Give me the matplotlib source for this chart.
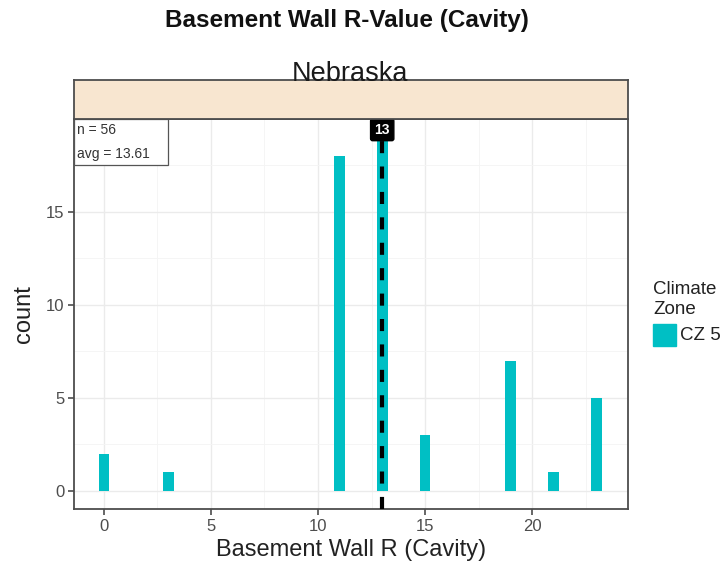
import matplotlib
matplotlib.use("Agg")
from matplotlib import pyplot as plt
from matplotlib.patches import Rectangle
from matplotlib.ticker import MultipleLocator

# data
r_values = [0, 3, 11, 13, 15, 19, 21, 23]
counts = [2, 1, 18, 19, 3, 7, 1, 5]
n_homes = 56
avg_r = 13.61
median_r = 13
state = "Nebraska"
zone_label = "CZ 5"

BAR_COLOR = "#00BFC4"
STRIP_COLOR = "#F8E6D0"

plt.rcParams["font.family"] = ["Liberation Sans", "DejaVu Sans"]

fig = plt.figure(figsize=(7.25, 5.75), dpi=100)

W, H = 725, 575
left, right, top, bottom = 74, 627.5, 119, 509
ax = fig.add_axes([left / W, 1 - bottom / H, (right - left) / W, (bottom - top) / H])

ax.bar(r_values, counts, width=0.5, color=BAR_COLOR, zorder=3)
ax.set_xlim(-1.4, 24.46)
ax.set_ylim(-0.97, 19.98)

ax.xaxis.set_major_locator(MultipleLocator(5))
ax.xaxis.set_minor_locator(MultipleLocator(2.5))
ax.yaxis.set_major_locator(MultipleLocator(5))
ax.yaxis.set_minor_locator(MultipleLocator(2.5))
ax.grid(which="major", color="#EBEBEB", linewidth=1.0, zorder=0)
ax.grid(which="minor", color="#F4F4F4", linewidth=0.6, zorder=0)
ax.set_axisbelow(True)
ax.tick_params(which="minor", length=0)
ax.tick_params(which="major", length=4, width=1.2, pad=3, color="#4D4D4D",
               labelcolor="#4D4D4D", labelsize=12)
for sp in ax.spines.values():
    sp.set_color("#4D4D4D")
    sp.set_linewidth(1.3)

ax.set_xlabel("Basement Wall R (Cavity)", fontsize=17, color="#222222", labelpad=4)
ax.set_ylabel("count", fontsize=17, color="#222222", labelpad=8)

# median line and its label
ax.axvline(median_r, color="black", linestyle=(0, (2.9, 3.2)), linewidth=3, zorder=4)
ax.text(median_r, 19.4, str(median_r), ha="center", va="center", fontsize=10,
        color="white", fontweight="bold", zorder=6,
        bbox=dict(boxstyle="round,pad=0.28,rounding_size=0.15", fc="black", ec="black"))

# n / avg box
box_w = (168 - left) / (right - left)
box_h = (165 - top) / (bottom - top)
ax.add_patch(Rectangle((0, 1 - box_h), box_w, box_h, transform=ax.transAxes,
                       fc="white", ec="#555555", lw=0.9, zorder=5, clip_on=False))
ax.text(0.006, 1 - (130 - top) / (bottom - top), f"n = {n_homes}", transform=ax.transAxes,
        ha="left", va="center", fontsize=10, color="#333333", zorder=6)
ax.text(0.006, 1 - (154 - top) / (bottom - top), f"avg = {avg_r:.2f}", transform=ax.transAxes,
        ha="left", va="center", fontsize=10, color="#333333", zorder=6)

# facet strip
strip = fig.add_axes([left / W, 1 - top / H, (right - left) / W, (top - 80) / H])
strip.set_xticks([])
strip.set_yticks([])
strip.set_facecolor(STRIP_COLOR)
for sp in strip.spines.values():
    sp.set_color("#4D4D4D")
    sp.set_linewidth(1.3)
fig.text(350 / W, 1 - 81 / H, state, ha="center", va="baseline", fontsize=19.5,
         color="#1A1A1A", zorder=10)

fig.text(347 / W, 1 - 21 / H, "Basement Wall R-Value (Cavity)", ha="center", va="center",
         fontsize=17.5, fontweight="bold", color="#111111")

# legend
fig.text(653 / W, 1 - 289 / H, "Climate", ha="left", va="center", fontsize=13.5, color="#222222")
fig.text(653 / W, 1 - 310 / H, "Zone", ha="left", va="center", fontsize=13.5, color="#222222")
fig.patches.append(Rectangle((653 / W, 1 - 346 / H), 23 / W, 22 / H,
                             transform=fig.transFigure, color=BAR_COLOR))
fig.text(680 / W, 1 - 335 / H, zone_label, ha="left", va="center", fontsize=13.5, color="#222222")

fig.savefig("out.png", dpi=100)
